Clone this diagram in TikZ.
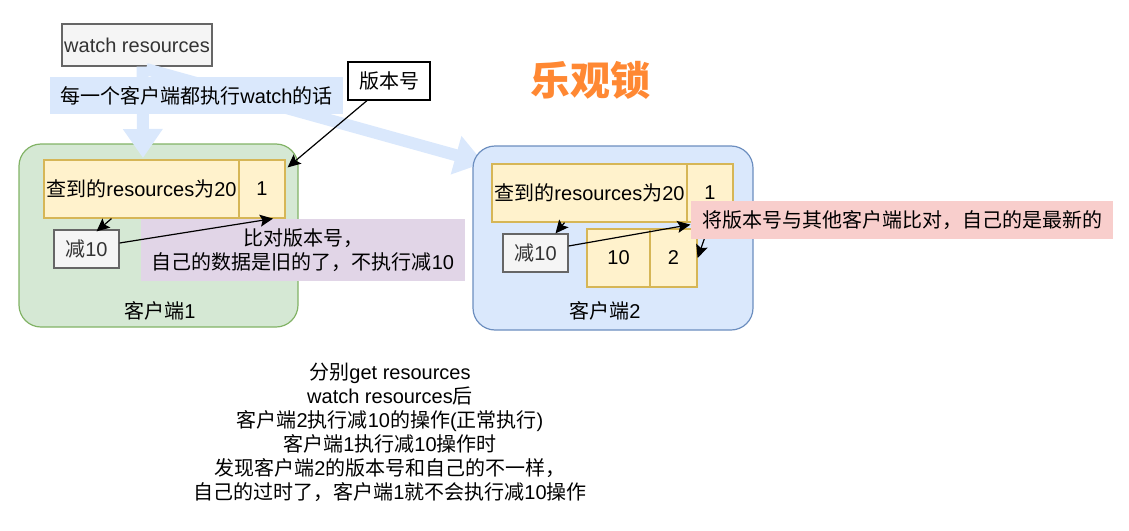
\documentclass[tikz,border=0pt]{standalone}
\usepackage{fontspec}
\setmainfont{Liberation Sans}
\newfontfamily\zh{Noto Sans CJK SC}
\usetikzlibrary{arrows.meta}

\definecolor{boxgray}{HTML}{F5F5F5}
\definecolor{linegray}{HTML}{666666}
\definecolor{textgray}{HTML}{333333}
\definecolor{cellfill}{HTML}{FFF2CC}
\definecolor{cellline}{HTML}{D6B656}
\definecolor{greenfill}{HTML}{D5E8D4}
\definecolor{greenline}{HTML}{82B366}
\definecolor{bluefill}{HTML}{DAE8FC}
\definecolor{blueline}{HTML}{6C8EBF}
\definecolor{purplefill}{HTML}{E1D5E7}
\definecolor{redfill}{HTML}{F8CECC}
\definecolor{titleorange}{HTML}{FF8833}

\begin{document}
\begin{tikzpicture}[
    x=1pt, y=-1pt,
    every node/.style={font=\fontsize{20}{24}\selectfont, inner sep=0pt},
    graybox/.style={
        draw=linegray, fill=boxgray, text=textgray, line width=1.2pt
    },
    cell/.style={
        draw=cellline, fill=cellfill, line width=1.2pt,
        minimum height=58pt
    },
    client/.style={
        rounded corners=22pt, line width=1.2pt
    },
    conn/.style={-{Stealth[length=13pt,width=12pt,inset=2.5pt]}, line width=1.2pt},
    flow/.style={
        draw=bluefill, line width=12pt,
        -{Triangle[width=38pt,length=29pt]}
    }
]

\useasboundingbox (0,0) rectangle (1129,530);

% watch-Kasten oben links
\node[graybox, minimum width=150pt, minimum height=42pt] (watch) at (137,45) {watch resources};

% Client 1 (gruen)
\node[client, fill=greenfill, draw=greenline,
    minimum width=279pt, minimum height=183pt] (client1) at (158.5,235.5) {};

% breite blaue Pfeile
\coordinate (downend) at (143,158);
\coordinate (flowbeg) at (146,69);
\coordinate (flowend) at (484,163);
\draw[flow] ([xshift=5.5pt]watch.south) -- (downend);
\draw[flow] (flowbeg) -- (flowend);

% Client 2 (blau)
\node[client, fill=bluefill, draw=blueline,
    minimum width=280pt, minimum height=184pt] (client2) at (613,238) {};

% Beschriftungen oben
\node[fill=bluefill, minimum width=293pt, minimum height=37pt] (watchtag)
    at (196.5,95.5) {{\zh 每一个客户端都执行}watch{\zh 的话}};
\node[draw, fill=white, line width=1.2pt, minimum width=82pt, minimum height=38pt] (ver)
    at (389,81) {{\zh 版本号}};
\node[font=\zh\bfseries\fontsize{40}{48}\selectfont, text=titleorange] (title)
    at (590,80) {乐观锁};

% Inhalt Client 1
\node[cell, minimum width=195pt] (data1) at (141.5,189) {{\zh 查到的}resources{\zh 为}20};
\node[cell, minimum width=46pt]  (ver1)  at (262,189) {1};
\node[graybox, minimum width=65pt, minimum height=38pt] (minus1) at (86.5,249) {{\zh 减}10};
\node[fill=purplefill, align=center, minimum width=324pt, minimum height=62pt] (note1)
    at (303,250) {{\zh 比对版本号，}\\{\zh 自己的数据是旧的了，不执行减}10};
\node (client1lbl) at (160,311) {{\zh 客户端}1};

\draw[conn] ([xshift=-22pt]ver.south) -- ([xshift=2pt,yshift=-8pt]ver1.north east);
\draw[conn] ([xshift=-30pt]data1.south) -- ([xshift=10pt,yshift=-2pt]minus1.north);
\draw[conn] ([yshift=6pt]minus1.east) -- ([xshift=11pt]ver1.south);

% Inhalt Client 2
\node[cell, minimum width=195pt] (data2) at (589.5,193) {{\zh 查到的}resources{\zh 为}20};
\node[cell, minimum width=46pt]  (ver2)  at (710,193) {1};
\node[graybox, minimum width=65pt, minimum height=38pt] (minus2) at (535.5,253) {{\zh 减}10};
\node[cell, minimum width=63pt] (val2)    at (618.5,258) {10};
\node[cell, minimum width=47pt] (ver2new) at (673.5,258) {2};
\draw[conn] (ver2.south) -- (ver2new.east);
\node[fill=redfill, minimum width=422pt, minimum height=38pt] (note2)
    at (902,220) {{\zh 将版本号与其他客户端比对，自己的是最新的}};
\node (client2lbl) at (605,311) {{\zh 客户端}2};

\draw[conn] ([xshift=-25pt]data2.south) -- ([xshift=20pt]minus2.north);
\draw[conn] ([yshift=7pt]minus2.east) -- ([xshift=4pt,yshift=-2pt]ver2.south west);

% Erklaerung unten
\node[align=center] (summary) at (390,432)
    {{\zh 分别}get resources\\
     watch resources{\zh 后}\\
     {\zh 客户端}2{\zh 执行减}10{\zh 的操作}({\zh 正常执行})\\
     {\zh 客户端}1{\zh 执行减}10{\zh 操作时}\\
     {\zh 发现客户端}2{\zh 的版本号和自己的不一样，}\\
     {\zh 自己的过时了，客户端}1{\zh 就不会执行减}10{\zh 操作}};

\end{tikzpicture}
\end{document}
